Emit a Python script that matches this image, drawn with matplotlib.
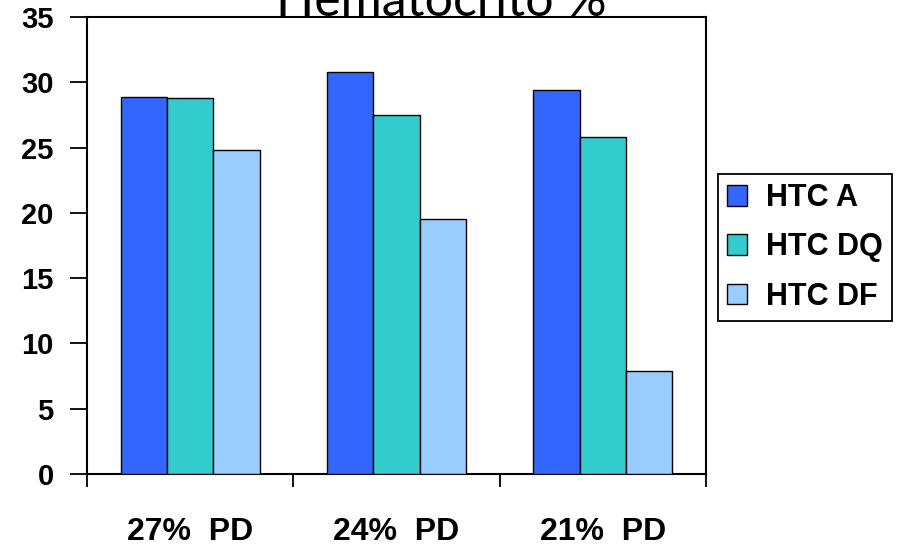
import matplotlib.pyplot as plt
import numpy as np

categories = ['27%  PD', '24%  PD', '21%  PD']
series = ['HTC A', 'HTC DQ', 'HTC DF']
htc_a = [28.9, 30.8, 29.4]
htc_dq = [28.8, 27.5, 25.8]
htc_df = [24.8, 19.5, 7.9]
colors = ['#3366FF', '#33CCCC', '#99CCFF']
title = 'Hematocrito %'

W, H = 906, 546
fig = plt.figure(figsize=(W / 100, H / 100), dpi=100)
ax = fig.add_axes([87 / W, 72 / H, (706 - 87) / W, (474 - 17) / H])

x = np.arange(len(categories))
width = 0.225
for i, (vals, name) in enumerate(zip([htc_a, htc_dq, htc_df], series)):
    ax.bar(x + (i - 1) * width, vals, width, color=colors[i],
           edgecolor='black', linewidth=1, label=name, zorder=3)

ax.set_xlim(-0.5, len(categories) - 0.5)
ax.set_ylim(0, 35)
ax.set_yticks(range(0, 36, 5))
ax.set_yticklabels([str(v) for v in range(0, 36, 5)],
                   fontfamily='Liberation Sans', fontweight='bold', fontsize=21)
ax.tick_params(axis='y', length=12, width=1.3, pad=12, direction='out')

# category boundaries carry the ticks, labels sit at the centres
ax.set_xticks(np.arange(len(categories) + 1) - 0.5)
ax.set_xticklabels([])
ax.tick_params(axis='x', which='major', length=9, width=1.3, direction='out')
ax.set_xticks(x, minor=True)
ax.set_xticklabels(categories, minor=True, fontfamily='Liberation Sans',
                   fontweight='bold', fontsize=23)
ax.tick_params(axis='x', which='minor', length=0, pad=31)

for s in ax.spines.values():
    s.set_linewidth(1.5)

leg = ax.legend(loc='upper left', bbox_to_anchor=(718 / W, 1 - 174 / H),
                bbox_transform=fig.transFigure, borderaxespad=0,
                prop={'family': 'Liberation Sans', 'weight': 'bold', 'size': 22},
                handlelength=0.65, handleheight=0.65, handletextpad=0.62,
                labelspacing=0.63, borderpad=0.3, fancybox=False,
                edgecolor='black', framealpha=1)
leg.get_frame().set_linewidth(1.3)

fig.text(0.487, 1 - 16 / H, title, ha='center', va='baseline',
         fontfamily='Lato', fontsize=36)

fig.savefig('out.png', dpi=100)
